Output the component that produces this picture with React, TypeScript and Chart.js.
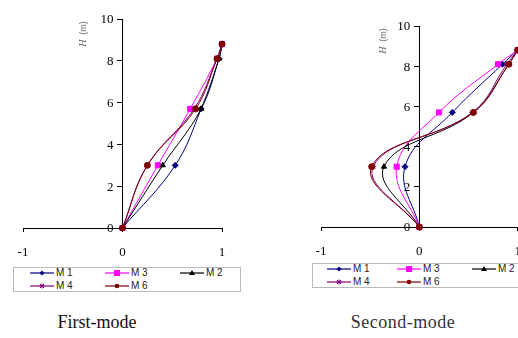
import React, { useEffect, useRef } from 'react';
import { Chart, registerables } from 'chart.js';
Chart.register(...registerables);

// Heights of the measuring levels (m)
const heights = [0, 3.0, 5.7, 8.1, 8.8];
const seriesNames = ['M1', 'M3', 'M2', 'M4', 'M6'];
const legendLabels = ['M 1', 'M 3', 'M 2', 'M 4', 'M 6'];
const seriesColors = ['#000080', '#ff00ff', '#000000', '#800080', '#800000'];
const seriesMarkers = ['rectRot', 'rect', 'triangle', 'star', 'circle'];
const seriesOrder = [4, 3, 2, 1, 0];

// First mode shapes
const firstM1 = [0, 0.53, 0.79, 0.97, 1.0];
const firstM3 = [0, 0.355, 0.68, 0.95, 1.0];
const firstM2 = [0, 0.405, 0.79, 0.97, 1.0];
const firstM4 = [0, 0.25, 0.72, 0.95, 1.0];
const firstM6 = [0, 0.25, 0.735, 0.95, 1.0];

// Second mode shapes
const secondM1 = [0, -0.146, 0.335, 0.845, 1.0];
const secondM3 = [0, -0.23, 0.2, 0.8, 1.0];
const secondM2 = [0, -0.36, 0.55, 0.91, 1.0];
const secondM4 = [0, -0.47, 0.54, 0.89, 1.0];
const secondM6 = [0, -0.485, 0.55, 0.91, 1.0];

const xTicks = [-1, 0, 1];
const yTicks = [0, 2, 4, 6, 8, 10];

// draws the y tick labels left of the centred y axis
const yLabelPlugin = {
  id: 'yLabelsLeft',
  afterDraw(chart: any) {
    const { ctx, scales } = chart;
    const x0 = scales.x.getPixelForValue(0);
    ctx.save();
    ctx.font = '13px "Liberation Serif"';
    ctx.fillStyle = '#000';
    ctx.textAlign = 'right';
    ctx.textBaseline = 'middle';
    yTicks.forEach((v) => {
      ctx.fillText(String(v), x0 - 9, scales.y.getPixelForValue(v) + 1);
    });
    ctx.restore();
  },
};

type PanelProps = {
  series: number[][];
  left: number;
  width: number;
  padLeft: number;
  padRight: number;
  padTop: number;
  axisHeight: number;
  height: number;
};

function Panel({ series, left, width, padLeft, padRight, padTop, axisHeight, height }: PanelProps) {
  const ref = useRef<HTMLCanvasElement | null>(null);
  useEffect(() => {
    if (!ref.current) return;
    const datasets = series.map((vals, i) => ({
      label: seriesNames[i],
      data: vals.map((v, k) => ({ x: v, y: heights[k] })),
      showLine: true,
      borderColor: seriesColors[i],
      backgroundColor: seriesColors[i],
      borderWidth: 1,
      tension: 0.4,
      pointStyle: seriesMarkers[i] as any,
      pointRadius: seriesMarkers[i] === 'rect' ? 3.6 : 3,
      pointBorderWidth: 1,
      order: seriesOrder[i],
      clip: false as any,
    }));
    const chart = new Chart(ref.current, {
      type: 'scatter',
      data: { datasets },
      plugins: [yLabelPlugin],
      options: {
        animation: false,
        responsive: false,
        events: [],
        layout: { padding: { left: padLeft, right: padRight, top: padTop, bottom: 0 } },
        plugins: { legend: { display: false }, tooltip: { enabled: false } },
        scales: {
          x: {
            type: 'linear',
            position: 'bottom',
            min: -1,
            max: 1,
            afterBuildTicks: (s: any) => { s.ticks = xTicks.map((v) => ({ value: v })); },
            afterFit: (s: any) => { s.height = axisHeight; s.paddingLeft = 0; s.paddingRight = 0; },
            ticks: {
              color: '#000',
              padding: 13,
              maxRotation: 0,
              font: { family: 'Liberation Serif', size: 13 },
            },
            grid: { drawOnChartArea: false, drawTicks: true, tickLength: 4, color: '#000' },
            border: { display: true, color: '#000', width: 1 },
          },
          y: {
            type: 'linear',
            position: { x: 0 } as any,
            min: 0,
            max: 10,
            afterBuildTicks: (s: any) => { s.ticks = yTicks.map((v) => ({ value: v })); },
            ticks: { display: false },
            grid: { drawOnChartArea: false, drawTicks: true, tickLength: 5, color: '#000' },
            border: { display: true, color: '#000', width: 1 },
          },
        },
      },
    });
    return () => chart.destroy();
  }, []);
  return (
    <canvas
      ref={ref}
      width={width}
      height={height}
      style={{ position: 'absolute', left, top: 0, width, height }}
    />
  );
}

function MarkerIcon({ idx }: { idx: number }) {
  const c = seriesColors[idx];
  const m = seriesMarkers[idx];
  const w = 24;
  const cx = 12, cy = 5;
  let marker: any = null;
  if (m === 'rectRot') marker = <polygon points={`${cx},${cy - 2.5} ${cx + 2.5},${cy} ${cx},${cy + 2.5} ${cx - 2.5},${cy}`} fill={c} />;
  if (m === 'rect') marker = <rect x={cx - 3} y={cy - 3} width={6} height={6} fill={c} />;
  if (m === 'triangle') marker = <polygon points={`${cx},${cy - 3} ${cx + 3},${cy + 2} ${cx - 3},${cy + 2}`} fill={c} />;
  if (m === 'star') marker = (
    <g stroke={c} strokeWidth={1}>
      <line x1={cx - 2.5} y1={cy} x2={cx + 2.5} y2={cy} />
      <line x1={cx} y1={cy - 2.5} x2={cx} y2={cy + 2.5} />
      <line x1={cx - 2} y1={cy - 2} x2={cx + 2} y2={cy + 2} />
      <line x1={cx - 2} y1={cy + 2} x2={cx + 2} y2={cy - 2} />
    </g>
  );
  if (m === 'circle') marker = <circle cx={cx} cy={cy} r={2.3} fill={c} />;
  return (
    <svg width={w} height={10} style={{ display: 'block' }}>
      <line x1={0} y1={cy} x2={w} y2={cy} stroke={c} strokeWidth={1.2} />
      {marker}
    </svg>
  );
}

function Legend({ left, top, width, cols }: { left: number; top: number; width: number; cols: number[] }) {
  const layout = [
    { idx: 0, col: 0, row: 0 },
    { idx: 1, col: 1, row: 0 },
    { idx: 2, col: 2, row: 0 },
    { idx: 3, col: 0, row: 1 },
    { idx: 4, col: 1, row: 1 },
  ];
  return (
    <div
      style={{
        position: 'absolute', left, top, width, height: 25,
        border: '1px solid #bbbbbb', boxSizing: 'border-box', background: '#fff',
      }}
    >
      {layout.map((it) => (
        <div
          key={it.idx}
          style={{
            position: 'absolute', left: cols[it.col] - 1, top: 0 + it.row * 13,
            display: 'flex', alignItems: 'center', height: 10,
            fontFamily: 'Liberation Sans', fontSize: 10, lineHeight: '10px', color: '#222',
            whiteSpace: 'nowrap',
          }}
        >
          <MarkerIcon idx={it.idx} />
          <span style={{ marginLeft: 2 }}>{legendLabels[it.idx]}</span>
        </div>
      ))}
    </div>
  );
}

function AxisTitle({ cx, cy }: { cx: number; cy: number }) {
  return (
    <div
      style={{
        position: 'absolute', left: cx - 20, top: cy - 6, width: 40, height: 12,
        transform: 'rotate(-90deg)', textAlign: 'center', lineHeight: '12px',
        fontSize: 10, color: '#666', whiteSpace: 'nowrap',
      }}
    >
      <span style={{ fontFamily: 'Liberation Serif', fontStyle: 'italic' }}>H</span>
      <span style={{ fontFamily: 'Liberation Sans', fontSize: 9 }}>&nbsp;&nbsp;(m)</span>
    </div>
  );
}

export default function App() {
  return (
    <div style={{ position: 'absolute', left: 0, top: 0, width: 518, height: 338, overflow: 'hidden', background: '#fff' }}>
      <Panel
        series={[firstM1, firstM3, firstM2, firstM4, firstM6]}
        left={0} width={259} height={262}
        padLeft={23} padRight={37} padTop={19} axisHeight={34}
      />
      <Panel
        series={[secondM1, secondM3, secondM2, secondM4, secondM6]}
        left={259} width={280} height={262}
        padLeft={62} padRight={21.3} padTop={26} axisHeight={35}
      />
      <AxisTitle cx={83} cy={34} />
      <AxisTitle cx={383} cy={41} />
      <Legend left={13} top={267} width={228} cols={[17, 92, 167]} />
      <Legend left={312} top={263} width={230} cols={[15, 85, 160]} />
      <div style={{ position: 'absolute', left: 0, width: 194, top: 310, textAlign: 'center', fontFamily: 'Liberation Serif', fontSize: 18, lineHeight: '24px', color: '#111' }}>
        First-mode
      </div>
      <div style={{ position: 'absolute', left: 303, width: 200, top: 310, textAlign: 'center', fontFamily: 'Liberation Serif', fontSize: 18, lineHeight: '24px', color: '#333', letterSpacing: 0.5 }}>
        Second-mode
      </div>
    </div>
  );
}
